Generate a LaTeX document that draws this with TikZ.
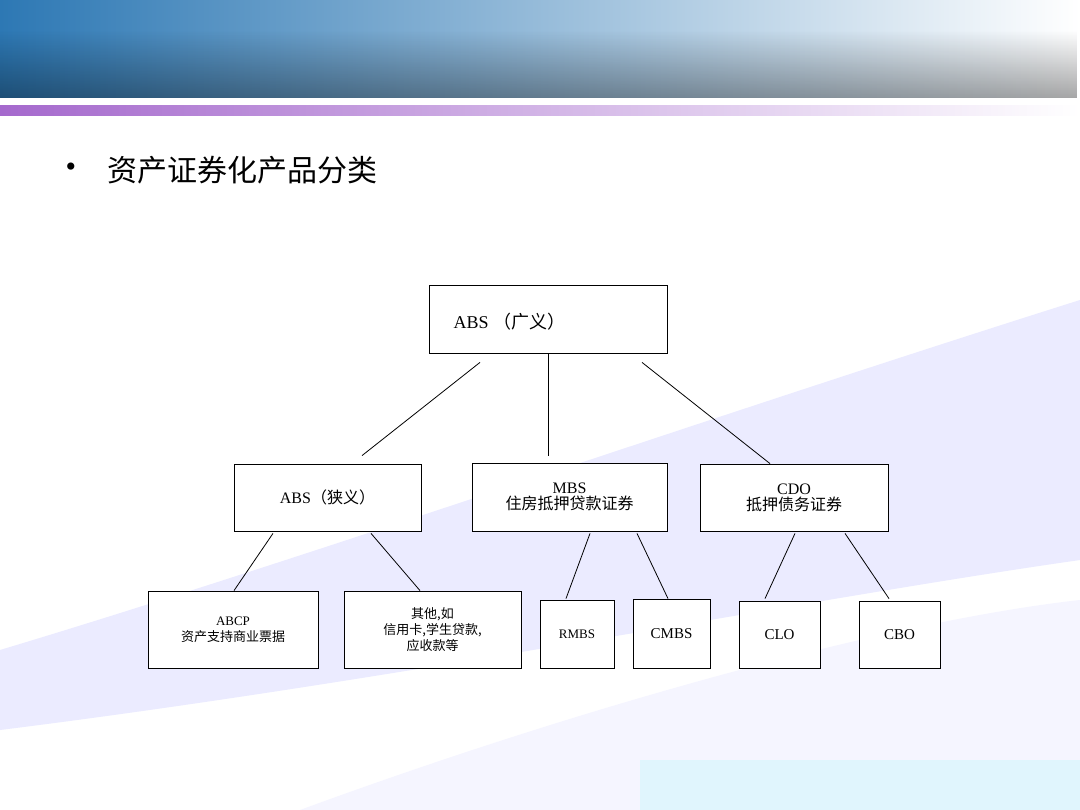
\documentclass[tikz,border=0pt]{standalone}
\usepackage{fontspec}
\setmainfont{Liberation Serif}
\newfontfamily\cjk{Noto Sans CJK SC}
\usetikzlibrary{calc,fadings}
\begin{document}
\begin{tikzpicture}[x=1pt,y=-1pt,
  bx/.style={draw,line width=0.8pt,fill=white,inner sep=0pt,align=center,font=\fontsize{16}{18}\selectfont},
  ln/.style={line width=0.8pt}]
\useasboundingbox (0,0) rectangle (1080,810);
\fill[white] (0,0) rectangle (1080,810);
% swoosh background
\fill[blue!8] (0,650) .. controls (300,560) and (700,420) .. (1080,300) -- (1080,560) .. controls (800,600) and (400,680) .. (0,730) -- cycle;
\fill[blue!4] (300,810) .. controls (600,700) and (900,620) .. (1080,600) -- (1080,810) -- cycle;
\fill[cyan!12] (640,760) -- (1080,760) -- (1080,810) -- (640,810) -- cycle;
% header
\shade[left color={rgb,255:red,45;green,120;blue,180},right color=white] (0,0) rectangle (1080,98);
\fill[black,opacity=0.35,path fading=north] (0,30) rectangle (1080,98);
\shade[left color={rgb,255:red,165;green,105;blue,205},right color=white] (0,106) rectangle (1080,116);
% title
\node[anchor=west,font=\fontsize{30}{34}\selectfont] at (62,170) {•};
\node[anchor=west,font=\cjk\fontsize{30}{34}\selectfont] at (104,170) {资产证券化产品分类};
% boxes
\node[bx,minimum width=238,minimum height=68] (top) at (548,319) {\hspace*{0pt}};
\node[anchor=west,font=\fontsize{18}{20}\selectfont] at (450,322) {ABS \cjk（广义）};
\node[bx,minimum width=187,minimum height=67] (n1) at (327.5,497.5) {ABS\cjk（狭义）};
\node[bx,minimum width=195,minimum height=68] (n2) at (569.5,497) {MBS\\[-2pt]\cjk 住房抵押贷款证券};
\node[bx,minimum width=188,minimum height=67] (n3) at (794,497.5) {CDO\\[-2pt]\cjk 抵押债务证券};
\node[bx,minimum width=170,minimum height=77,font=\fontsize{13}{16}\selectfont] (a) at (233,629.5) {ABCP\\\cjk 资产支持商业票据};
\node[bx,minimum width=177,minimum height=77,font=\fontsize{13}{16}\selectfont] (b) at (432.5,629.5) {\cjk 其他,如\\\cjk 信用卡,学生贷款,\\\cjk 应收款等};
\node[bx,minimum width=74,minimum height=68,font=\fontsize{13}{16}\selectfont] (c) at (577,634) {RMBS};
\node[bx,minimum width=77,minimum height=69,font=\fontsize{15}{16}\selectfont] (d) at (671.5,633.5) {CMBS};
\node[bx,minimum width=81,minimum height=67,font=\fontsize{15}{16}\selectfont] (e) at (779.5,634.5) {CLO};
\node[bx,minimum width=81,minimum height=67,font=\fontsize{15}{16}\selectfont] (f) at (899.5,634.5) {CBO};
% connectors
\draw[ln] ($(top.south)+(-68,9)$) -- ($(n1.north)+(34.5,-8)$);
\draw[ln] (top.south) -- ($(n2.north)+(-21.5,-7)$);
\draw[ln] ($(top.south)+(94,9)$) -- ($(n3.north)+(-24,0)$);
\draw[ln] ($(n1.south)+(-54.5,2)$) -- ($(a.north)+(1,0)$);
\draw[ln] ($(n1.south)+(43.5,2)$) -- ($(b.north)+(-12.5,0)$);
\draw[ln] ($(n2.south)+(20.5,2)$) -- ($(c.north)+(-11,-1)$);
\draw[ln] ($(n2.south)+(67.5,2)$) -- ($(d.north)+(-3.5,0)$);
\draw[ln] ($(n3.south)+(1,2)$) -- ($(e.north)+(-14.5,-2)$);
\draw[ln] ($(n3.south)+(51,2)$) -- ($(f.north)+(-10.5,-2)$);
\end{tikzpicture}
\end{document}
